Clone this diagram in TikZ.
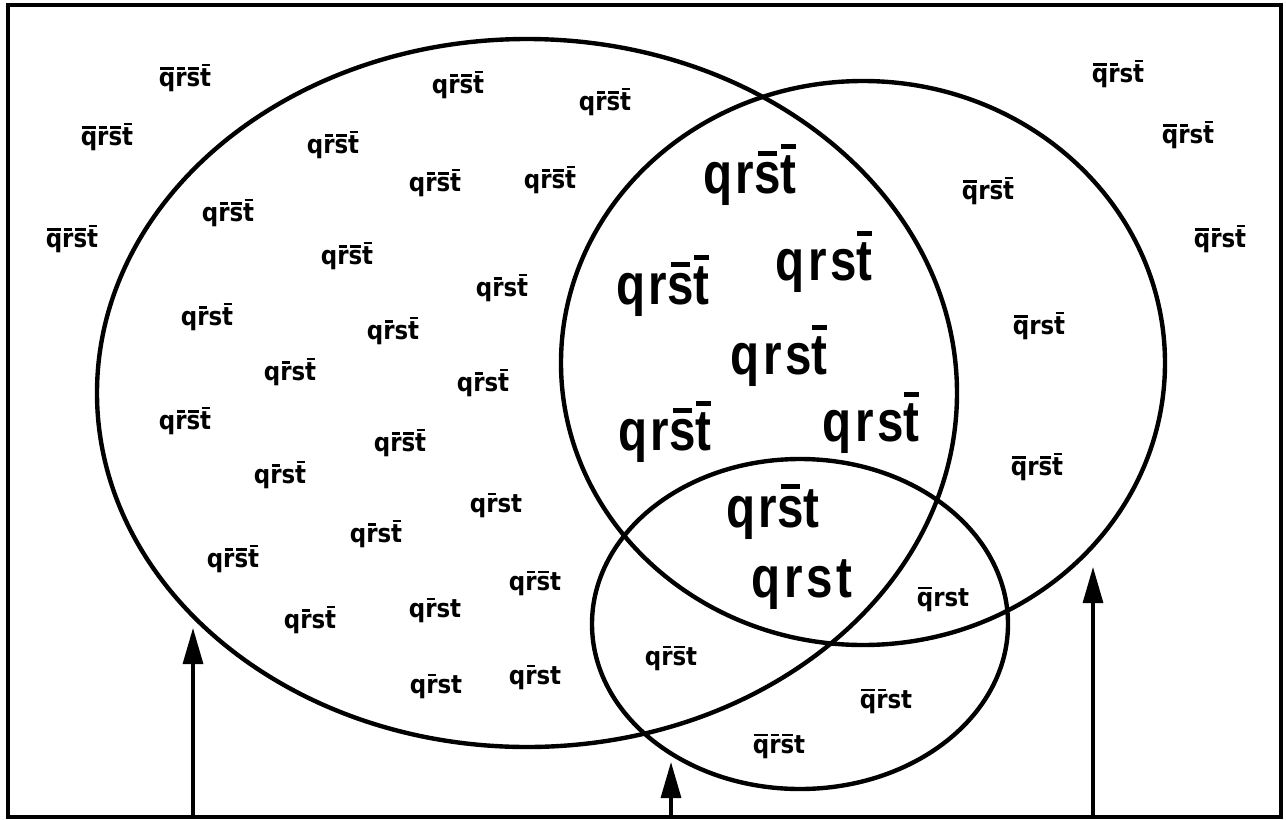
\documentclass[tikz,border=0pt]{standalone}
\usepackage{fontspec}
\usepackage{tikz}
\usetikzlibrary{arrows.meta}

\newfontfamily\labelfont[FakeStretch=0.9]{DejaVu Sans}
\newfontfamily\regionfont[FakeStretch=0.82, LetterSpace=6]{Liberation Sans}
% letter with a bar over it
\newcommand\nb[1]{\setbox0\hbox{#1}\dimen0=\dimexpr\wd0-.12em\relax
  \ifdim\dimen0<.26em \dimen0=.26em\fi
  \vbox{\offinterlineskip
  \hbox to \wd0{\hss\vrule width \dimen0 height .085em\hss}\kern.12em\box0}}

\begin{document}
\begin{tikzpicture}[
    x=0.02cm, y=-0.02cm,
    small/.style={font=\fontsize{14.5}{18}\labelfont\bfseries, inner sep=0pt},
    big/.style={font=\fontsize{33}{38}\regionfont\bfseries, inner sep=0pt},
    setline/.style={line width=2.5pt},
    frame/.style={line width=2pt},
    pointer/.style={line width=1.8pt, -{Triangle[length=0.72cm, width=0.4cm]}}
]
    \useasboundingbox (0,0) rectangle (1286,819);
    \draw[frame] (8,5) rectangle (1281,817);

    % the three sets
    \draw[setline] (527,393) ellipse [x radius=430, y radius=354];
    \draw[setline] (863,363) ellipse [x radius=302, y radius=282];
    \draw[setline] (800,624) ellipse [x radius=208, y radius=165];

    % outside
    \node[small] (o1) at (185,78) {\nb{q}\nb{r}\nb{s}\nb{t}};
    \node[small] (o2) at (107,137) {\nb{q}\nb{r}\nb{s}\nb{t}};
    \node[small] (o3) at (72,239) {\nb{q}\nb{r}\nb{s}\nb{t}};
    \node[small] (o4) at (1118,74) {\nb{q}\nb{r}s\nb{t}};
    \node[small] (o5) at (1188,135) {\nb{q}\nb{r}s\nb{t}};
    \node[small] (o6) at (1220,239) {\nb{q}\nb{r}s\nb{t}};

    % left set only
    \node[small] (q1) at (458,85) {q\nb{r}\nb{s}\nb{t}};
    \node[small] (q2) at (605,102) {q\nb{r}\nb{s}\nb{t}};
    \node[small] (q3) at (333,145) {q\nb{r}\nb{s}\nb{t}};
    \node[small] (q4) at (435,183) {q\nb{r}\nb{s}\nb{t}};
    \node[small] (q5) at (550,180) {q\nb{r}\nb{s}\nb{t}};
    \node[small] (q6) at (228,213) {q\nb{r}\nb{s}\nb{t}};
    \node[small] (q7) at (347,256) {q\nb{r}\nb{s}\nb{t}};
    \node[small] (q8) at (502,288) {q\nb{r}s\nb{t}};
    \node[small] (q9) at (207,317) {q\nb{r}s\nb{t}};
    \node[small] (q10) at (393,331) {q\nb{r}s\nb{t}};
    \node[small] (q11) at (290,372) {q\nb{r}s\nb{t}};
    \node[small] (q12) at (483,383) {q\nb{r}s\nb{t}};
    \node[small] (q13) at (185,421) {q\nb{r}\nb{s}\nb{t}};
    \node[small] (q14) at (400,443) {q\nb{r}\nb{s}\nb{t}};
    \node[small] (q15) at (280,475) {q\nb{r}s\nb{t}};
    \node[small] (q16) at (496,505) {q\nb{r}st};
    \node[small] (q17) at (376,534) {q\nb{r}s\nb{t}};
    \node[small] (q18) at (233,559) {q\nb{r}\nb{s}\nb{t}};
    \node[small] (q19) at (535,583) {q\nb{r}\nb{s}t};
    \node[small] (q20) at (310,620) {q\nb{r}s\nb{t}};
    \node[small] (q21) at (435,610) {q\nb{r}st};
    \node[small] (q22) at (436,686) {q\nb{r}st};
    \node[small] (q23) at (535,677) {q\nb{r}st};

    % right set only
    \node[small] (r1) at (988,191) {\nb{q}r\nb{s}\nb{t}};
    \node[small] (r2) at (1039,326) {\nb{q}rs\nb{t}};
    \node[small] (r3) at (1037,467) {\nb{q}r\nb{s}\nb{t}};
    \node[small] (r4) at (943,599) {\nb{q}rst};

    % small set
    \node[small] (s1) at (671,658) {q\nb{r}\nb{s}t};
    \node[small] (s2) at (886,701) {\nb{q}\nb{r}st};
    \node[small] (s3) at (779,746) {\nb{q}\nb{r}\nb{s}t};

    % left and right sets
    \node[big] (qr1) at (750,175) {qr\nb{s}\nb{t}};
    \node[big] (qr2) at (663,286) {qr\nb{s}\nb{t}};
    \node[big] (qr3) at (824,262) {qrs\nb{t}};
    \node[big] (qr4) at (779,356) {qrs\nb{t}};
    \node[big] (qr5) at (665,432) {qr\nb{s}\nb{t}};
    \node[big] (qr6) at (871,423) {qrs\nb{t}};
    \node[big] (qr7) at (773,512) {qr\nb{s}t};
    \node[big] (qr8) at (802,585) {qrst};

    % pointers
    \coordinate (pa0) at (193,817);
    \coordinate (pa1) at (193,628);
    \coordinate (pb0) at (671,817);
    \coordinate (pb1) at (671,762);
    \coordinate (pc0) at (1093,817);
    \coordinate (pc1) at (1093,567);
    \draw[pointer] (pa0) -- (pa1);
    \draw[pointer] (pb0) -- (pb1);
    \draw[pointer] (pc0) -- (pc1);
\end{tikzpicture}
\end{document}
